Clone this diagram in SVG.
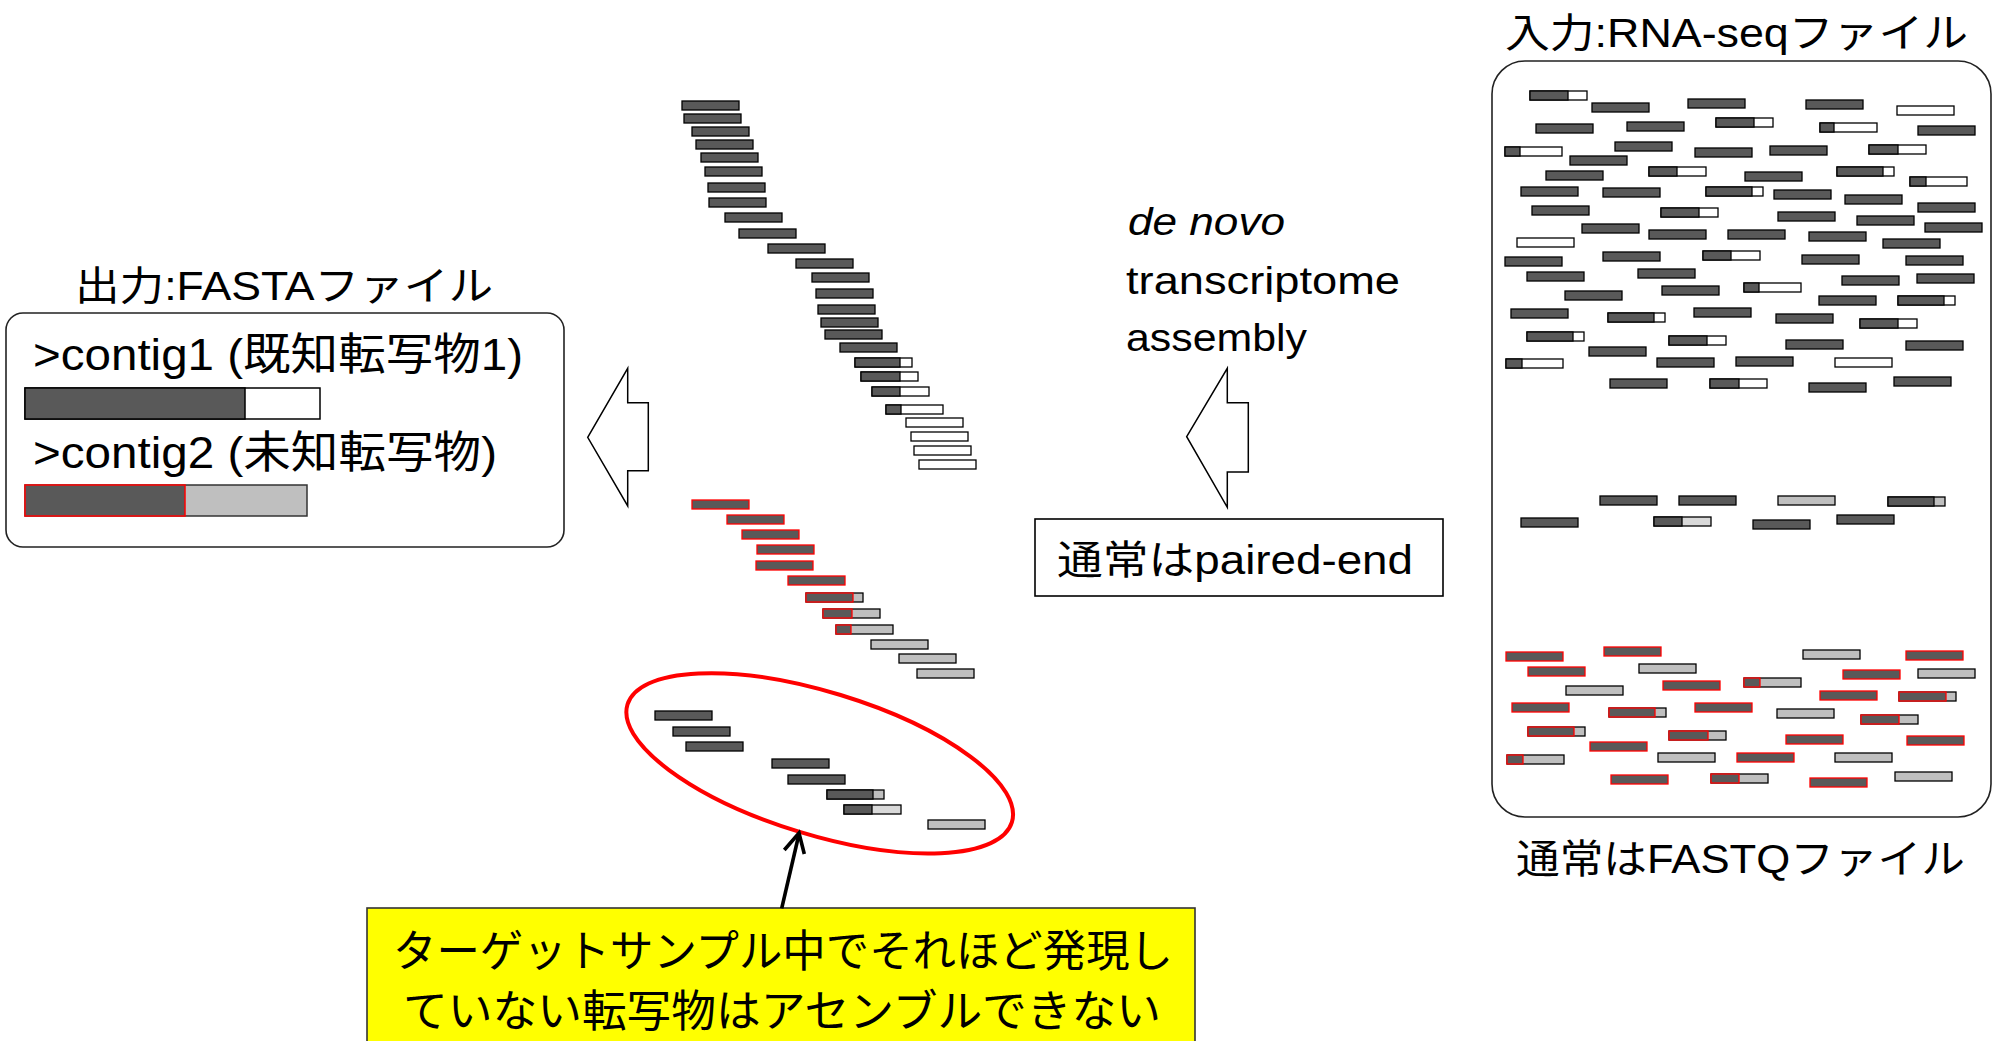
<svg xmlns="http://www.w3.org/2000/svg" xmlns:xlink="http://www.w3.org/1999/xlink" width="1997" height="1041" viewBox="0 0 1997 1041">
<style>
text{font-family:"Liberation Sans","Noto Sans CJK JP",sans-serif;fill:#000}
.d{fill:#595959;stroke:#000;stroke-width:1.3}
.w{fill:#fff;stroke:#000;stroke-width:1.3}
.g{fill:#bfbfbf;stroke:#000;stroke-width:1.3}
.l{fill:#d9d9d9;stroke:#000;stroke-width:1.3}
.r{fill:#595959;stroke:#f00;stroke-width:1.3}
.box{fill:#fff;stroke:#222;stroke-width:1.6}
.blk{fill:#fff;stroke:#000;stroke-width:1.5}
</style>
<defs>
<rect id="D" width="57" height="9" class="d"/>
<rect id="W" width="57" height="9" class="w"/>
<rect id="G" width="57" height="9" class="g"/>
<rect id="R" width="57" height="9" class="r"/>
</defs>

<g id="input-file">
<text x="1505" y="47" font-size="40" textLength="463" lengthAdjust="spacingAndGlyphs">入力:RNA-seqファイル</text>
<rect class="box" x="1492" y="61" width="499" height="756" rx="33"/>
<text x="1516" y="873" font-size="40" textLength="449" lengthAdjust="spacingAndGlyphs">通常はFASTQファイル</text>
<g id="input-reads-abundant">
<rect class="w" x="1530" y="91" width="57" height="9"/><rect class="d" x="1530" y="91" width="38" height="9"/>
<use href="#D" x="1592" y="103"/>
<use href="#D" x="1688" y="99"/>
<use href="#D" x="1806" y="100"/>
<use href="#W" x="1897" y="106"/>
<use href="#D" x="1536" y="124"/>
<use href="#D" x="1627" y="122"/>
<rect class="w" x="1716" y="118" width="57" height="9"/><rect class="d" x="1716" y="118" width="38" height="9"/>
<rect class="w" x="1820" y="123" width="57" height="9"/><rect class="d" x="1820" y="123" width="14" height="9"/>
<use href="#D" x="1918" y="126"/>
<rect class="w" x="1505" y="147" width="57" height="9"/><rect class="d" x="1505" y="147" width="15" height="9"/>
<use href="#D" x="1615" y="142"/>
<use href="#D" x="1695" y="148"/>
<use href="#D" x="1770" y="146"/>
<rect class="w" x="1869" y="145" width="57" height="9"/><rect class="d" x="1869" y="145" width="29" height="9"/>
<use href="#D" x="1570" y="156"/>
<use href="#D" x="1546" y="171"/>
<rect class="w" x="1649" y="167" width="57" height="9"/><rect class="d" x="1649" y="167" width="28" height="9"/>
<use href="#D" x="1745" y="172"/>
<rect class="w" x="1837" y="167" width="57" height="9"/><rect class="d" x="1837" y="167" width="46" height="9"/>
<rect class="w" x="1910" y="177" width="57" height="9"/><rect class="d" x="1910" y="177" width="16" height="9"/>
<use href="#D" x="1521" y="187"/>
<use href="#D" x="1603" y="188"/>
<rect class="w" x="1706" y="187" width="57" height="9"/><rect class="d" x="1706" y="187" width="46" height="9"/>
<use href="#D" x="1774" y="190"/>
<use href="#D" x="1845" y="195"/>
<use href="#D" x="1532" y="206"/>
<rect class="w" x="1661" y="208" width="57" height="9"/><rect class="d" x="1661" y="208" width="38" height="9"/>
<use href="#D" x="1918" y="203"/>
<use href="#D" x="1778" y="212"/>
<use href="#D" x="1857" y="216"/>
<use href="#D" x="1582" y="224"/>
<use href="#D" x="1925" y="223"/>
<use href="#D" x="1649" y="230"/>
<use href="#D" x="1728" y="230"/>
<use href="#D" x="1809" y="232"/>
<use href="#W" x="1517" y="238"/>
<use href="#D" x="1883" y="239"/>
<use href="#D" x="1505" y="257"/>
<use href="#D" x="1603" y="252"/>
<rect class="w" x="1703" y="251" width="57" height="9"/><rect class="d" x="1703" y="251" width="28" height="9"/>
<use href="#D" x="1802" y="255"/>
<use href="#D" x="1906" y="256"/>
<use href="#D" x="1527" y="272"/>
<use href="#D" x="1638" y="269"/>
<use href="#D" x="1842" y="276"/>
<use href="#D" x="1917" y="274"/>
<use href="#D" x="1565" y="291"/>
<use href="#D" x="1662" y="286"/>
<rect class="w" x="1744" y="283" width="57" height="9"/><rect class="d" x="1744" y="283" width="15" height="9"/>
<use href="#D" x="1819" y="296"/>
<rect class="w" x="1898" y="296" width="57" height="9"/><rect class="d" x="1898" y="296" width="46" height="9"/>
<use href="#D" x="1511" y="309"/>
<rect class="w" x="1608" y="313" width="57" height="9"/><rect class="d" x="1608" y="313" width="46" height="9"/>
<use href="#D" x="1694" y="308"/>
<use href="#D" x="1776" y="314"/>
<rect class="w" x="1860" y="319" width="57" height="9"/><rect class="d" x="1860" y="319" width="38" height="9"/>
<rect class="w" x="1527" y="332" width="57" height="9"/><rect class="d" x="1527" y="332" width="46" height="9"/>
<rect class="w" x="1669" y="336" width="57" height="9"/><rect class="d" x="1669" y="336" width="38" height="9"/>
<use href="#D" x="1786" y="340"/>
<use href="#D" x="1906" y="341"/>
<use href="#D" x="1589" y="347"/>
<rect class="w" x="1506" y="359" width="57" height="9"/><rect class="d" x="1506" y="359" width="16" height="9"/>
<use href="#D" x="1657" y="358"/>
<use href="#D" x="1736" y="357"/>
<use href="#W" x="1835" y="358"/>
<use href="#D" x="1610" y="379"/>
<rect class="w" x="1710" y="379" width="57" height="9"/><rect class="d" x="1710" y="379" width="29" height="9"/>
<use href="#D" x="1809" y="383"/>
<use href="#D" x="1894" y="377"/>
</g>
<g id="input-reads-moderate">
<use href="#D" x="1600" y="496"/>
<use href="#D" x="1679" y="496"/>
<use href="#G" x="1778" y="496"/>
<rect class="g" x="1888" y="497" width="57" height="9"/><rect class="d" x="1888" y="497" width="46" height="9"/>
<use href="#D" x="1521" y="518"/>
<rect class="l" x="1654" y="517" width="57" height="9"/><rect class="d" x="1654" y="517" width="28" height="9"/>
<use href="#D" x="1753" y="520"/>
<use href="#D" x="1837" y="515"/>
</g>
<g id="input-reads-novel">
<use href="#R" x="1506" y="652"/>
<use href="#R" x="1604" y="647"/>
<use href="#G" x="1803" y="650"/>
<use href="#R" x="1906" y="651"/>
<use href="#R" x="1528" y="667"/>
<use href="#G" x="1639" y="664"/>
<use href="#R" x="1843" y="670"/>
<use href="#G" x="1918" y="669"/>
<use href="#G" x="1566" y="686"/>
<use href="#R" x="1663" y="681"/>
<rect class="g" x="1744" y="678" width="57" height="9"/><rect class="r" x="1744" y="678" width="16" height="9"/>
<use href="#R" x="1820" y="691"/>
<rect class="g" x="1899" y="692" width="57" height="9"/><rect class="r" x="1899" y="692" width="47" height="9"/>
<use href="#R" x="1512" y="703"/>
<rect class="g" x="1609" y="708" width="57" height="9"/><rect class="r" x="1609" y="708" width="46" height="9"/>
<use href="#R" x="1695" y="703"/>
<use href="#G" x="1777" y="709"/>
<rect class="g" x="1861" y="715" width="57" height="9"/><rect class="r" x="1861" y="715" width="38" height="9"/>
<rect class="g" x="1528" y="727" width="57" height="9"/><rect class="r" x="1528" y="727" width="46" height="9"/>
<rect class="g" x="1669" y="731" width="57" height="9"/><rect class="r" x="1669" y="731" width="39" height="9"/>
<use href="#R" x="1786" y="735"/>
<use href="#R" x="1907" y="736"/>
<use href="#R" x="1590" y="742"/>
<rect class="g" x="1507" y="755" width="57" height="9"/><rect class="r" x="1507" y="755" width="16" height="9"/>
<use href="#G" x="1658" y="753"/>
<use href="#R" x="1737" y="753"/>
<use href="#G" x="1835" y="753"/>
<use href="#R" x="1611" y="775"/>
<rect class="g" x="1711" y="774" width="57" height="9"/><rect class="r" x="1711" y="774" width="28" height="9"/>
<use href="#R" x="1810" y="778"/>
<use href="#G" x="1895" y="772"/>
</g>
</g>

<g id="assembly-label">
<text x="1128" y="235" font-size="38" font-style="italic" textLength="157" lengthAdjust="spacingAndGlyphs">de novo</text>
<text x="1126" y="294" font-size="38" textLength="274" lengthAdjust="spacingAndGlyphs">transcriptome</text>
<text x="1126" y="351" font-size="38" textLength="181" lengthAdjust="spacingAndGlyphs">assembly</text>
</g>

<g id="paired-end-note">
<rect x="1035" y="519" width="408" height="77" fill="#fff" stroke="#000" stroke-width="1.6"/>
<text x="1057" y="574" font-size="40" textLength="356" lengthAdjust="spacingAndGlyphs">通常はpaired-end</text>
</g>

<g id="reads-known">
<use href="#D" x="682" y="101"/>
<use href="#D" x="684" y="114"/>
<use href="#D" x="692" y="127"/>
<use href="#D" x="696" y="140"/>
<use href="#D" x="701" y="153"/>
<use href="#D" x="705" y="167"/>
<use href="#D" x="708" y="183"/>
<use href="#D" x="709" y="198"/>
<use href="#D" x="725" y="213"/>
<use href="#D" x="739" y="229"/>
<use href="#D" x="768" y="244"/>
<use href="#D" x="796" y="259"/>
<use href="#D" x="812" y="273"/>
<use href="#D" x="816" y="289"/>
<use href="#D" x="818" y="305"/>
<use href="#D" x="821" y="318"/>
<use href="#D" x="825" y="330"/>
<use href="#D" x="840" y="343"/>
<rect class="w" x="855" y="358" width="57" height="9"/><rect class="d" x="855" y="358" width="45" height="9"/>
<rect class="w" x="861" y="372" width="57" height="9"/><rect class="d" x="861" y="372" width="39" height="9"/>
<rect class="w" x="872" y="387" width="57" height="9"/><rect class="d" x="872" y="387" width="28" height="9"/>
<rect class="w" x="886" y="405" width="57" height="9"/><rect class="d" x="886" y="405" width="15" height="9"/>
<use href="#W" x="906" y="418"/>
<use href="#W" x="911" y="432"/>
<use href="#W" x="914" y="446"/>
<use href="#W" x="919" y="460"/>
</g>

<g id="reads-novel">
<use href="#R" x="692" y="500"/>
<use href="#R" x="727" y="515"/>
<use href="#R" x="742" y="530"/>
<use href="#R" x="757" y="545"/>
<use href="#R" x="756" y="561"/>
<use href="#R" x="788" y="576"/>
<rect class="g" x="806" y="593" width="57" height="9"/><rect class="r" x="806" y="593" width="47" height="9"/>
<rect class="g" x="823" y="609" width="57" height="9"/><rect class="r" x="823" y="609" width="29" height="9"/>
<rect class="g" x="836" y="625" width="57" height="9"/><rect class="r" x="836" y="625" width="15" height="9"/>
<use href="#G" x="871" y="640"/>
<use href="#G" x="899" y="654"/>
<use href="#G" x="917" y="669"/>
</g>

<g id="reads-low-expression">
<use href="#D" x="655" y="711"/>
<use href="#D" x="673" y="727"/>
<use href="#D" x="686" y="742"/>
<use href="#D" x="772" y="759"/>
<use href="#D" x="788" y="775"/>
<rect class="g" x="827" y="790" width="57" height="9"/><rect class="d" x="827" y="790" width="46" height="9"/>
<rect class="l" x="844" y="805" width="57" height="9"/><rect class="d" x="844" y="805" width="28" height="9"/>
<use href="#G" x="928" y="820"/>
<ellipse cx="819.7" cy="763.3" rx="201" ry="71.4" transform="rotate(17 819.7 763.3)" fill="none" stroke="#f00" stroke-width="4"/>
</g>

<g id="output-fasta">
<text x="75" y="300" font-size="40" textLength="418" lengthAdjust="spacingAndGlyphs">出力:FASTAファイル</text>
<rect class="box" x="6" y="313" width="558" height="234" rx="17"/>
<text x="33" y="370" font-size="44" textLength="490" lengthAdjust="spacingAndGlyphs">&gt;contig1 (既知転写物1)</text>
<rect x="25" y="388" width="295" height="31" fill="#fff" stroke="#000" stroke-width="1.5"/>
<rect x="25" y="388" width="220" height="31" fill="#595959" stroke="#000" stroke-width="1.5"/>
<text x="33" y="468" font-size="44" textLength="464" lengthAdjust="spacingAndGlyphs">&gt;contig2 (未知転写物)</text>
<rect x="25" y="485" width="282" height="31" fill="#bfbfbf" stroke="#333" stroke-width="1.5"/>
<rect x="25" y="485" width="160" height="31" fill="#595959" stroke="#f00" stroke-width="1.5"/>
</g>

<g id="callout">
<rect x="367" y="908" width="828" height="140" fill="#ffff00" stroke="#333" stroke-width="1.6"/>
<text x="393" y="967" font-size="44" textLength="780" lengthAdjust="spacingAndGlyphs">ターゲットサンプル中でそれほど発現し</text>
<text x="403" y="1027" font-size="44" textLength="758" lengthAdjust="spacingAndGlyphs">ていない転写物はアセンブルできない</text>
</g>

<g id="connectors">
<polygon class="blk" points="1186.7,436.7 1227.3,368.3 1227.3,402.7 1248.3,402.7 1248.3,472 1227.3,472 1227.3,507.3"/>
<polygon class="blk" points="587.7,437.3 627.7,368.3 627.7,402.7 648.3,402.7 648.3,470.7 627.7,470.7 627.7,506"/>
<line x1="781.7" y1="908.3" x2="799" y2="834" stroke="#000" stroke-width="3.6"/>
<polyline points="784.3,850 799,833 804.3,854" fill="none" stroke="#000" stroke-width="3.6" stroke-linejoin="miter"/>
</g>
</svg>
